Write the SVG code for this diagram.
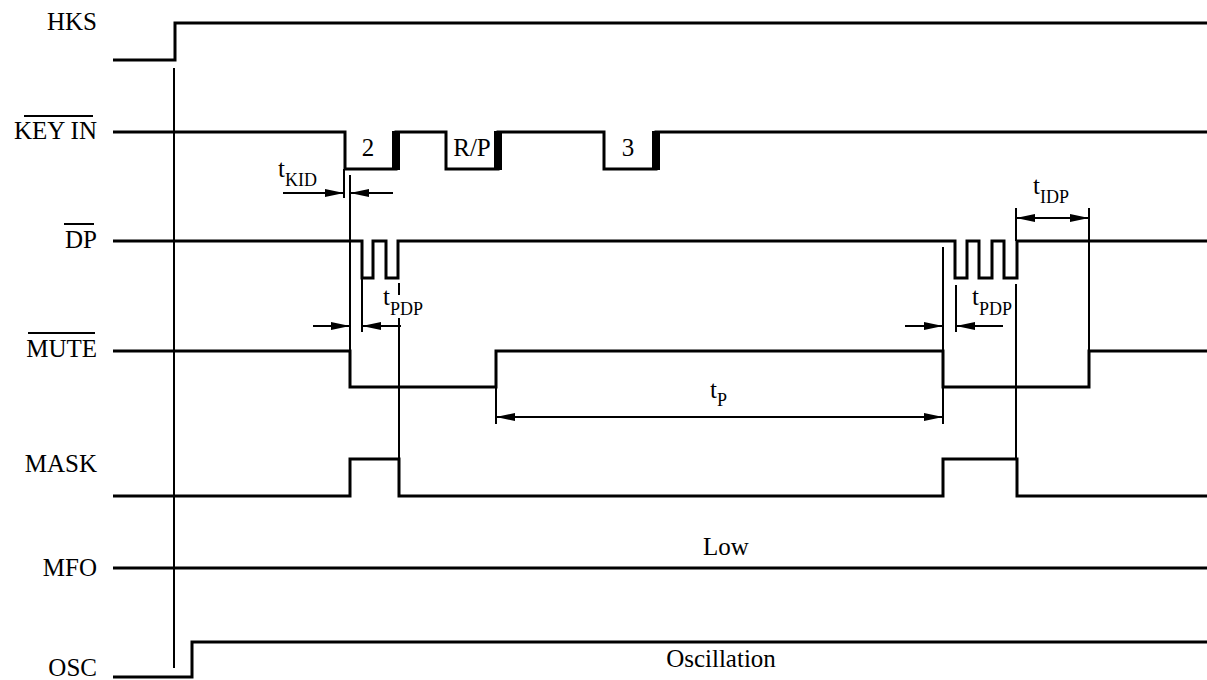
<svg xmlns="http://www.w3.org/2000/svg" width="1207" height="680" viewBox="0 0 1207 680">
<defs>
<style>
.sig{fill:none;stroke:#000;stroke-width:3;stroke-linejoin:miter}
.g{fill:none;stroke:#000;stroke-width:2}
.ar{fill:none;stroke:#000;stroke-width:2;marker-end:url(#ah)}
.ar2{fill:none;stroke:#000;stroke-width:2;marker-end:url(#ah);marker-start:url(#ah)}
text{font-family:"Liberation Serif","Times New Roman",serif;font-size:25px;fill:#000}
.lbl{text-anchor:end}
.mid{text-anchor:middle}
.sub{font-size:18px}
</style>
<marker id="ah" viewBox="0 0 19 8" markerWidth="19" markerHeight="8" refX="19" refY="4" orient="auto-start-reverse" markerUnits="userSpaceOnUse">
<path d="M0,0 L19,4 L0,8 z" fill="#000"/>
</marker>
</defs>
<rect width="1207" height="680" fill="#fff"/>

<g id="labels">
<text class="lbl" x="97" y="30">HKS</text>
<text class="lbl" x="97" y="139">KEY IN</text>
<line class="g" x1="24" y1="116" x2="93" y2="116"/>
<text class="lbl" x="97" y="248">DP</text>
<line class="g" x1="64" y1="224" x2="94" y2="224"/>
<text class="lbl" x="97" y="357">MUTE</text>
<line class="g" x1="28" y1="333" x2="95" y2="333"/>
<text class="lbl" x="97" y="472">MASK</text>
<text class="lbl" x="97" y="576">MFO</text>
<text class="lbl" x="97" y="676">OSC</text>
</g>

<g id="HKS"><path class="sig" d="M113,60 H175 V23 H1207"/></g>
<g id="KEYIN">
<path class="sig" d="M113,132 H345 V169 H396 V132 H446 V169 H498 V132 H604 V169 H656 V132 H1207"/>
<rect x="392" y="131" width="8" height="39" fill="#000"/>
<rect x="494" y="131" width="8" height="39" fill="#000"/>
<rect x="652" y="131" width="8" height="39" fill="#000"/>
<text class="mid" x="368" y="156">2</text>
<text class="mid" x="472" y="156">R/P</text>
<text class="mid" x="628" y="156">3</text>
</g>
<g id="DP"><path class="sig" d="M113,241 H362 V278 H373 V241 H386 V278 H398 V241 H955 V278 H967 V241 H979 V278 H992 V241 H1004 V278 H1017 V241 H1207"/></g>
<g id="MUTE"><path class="sig" d="M113,351 H350 V387 H496 V351 H943 V387 H1089 V351 H1207"/></g>
<g id="MASK"><path class="sig" d="M113,496 H350 V459 H399 V496 H943 V459 H1017 V496 H1207"/></g>
<g id="MFO"><path class="sig" d="M113,568 H1207"/><text class="mid" x="726" y="555">Low</text></g>
<g id="OSC"><path class="sig" d="M113,677 H192 V642 H1207"/><text class="mid" x="721" y="667">Oscillation</text></g>

<g id="connectors">
<line class="g" x1="174" y1="68" x2="174" y2="668"/>
<line class="g" x1="344" y1="169" x2="344" y2="198"/>
<line class="g" x1="350" y1="175" x2="350" y2="351"/>
<line class="g" x1="362" y1="278" x2="362" y2="332"/>
<line class="g" x1="399" y1="283" x2="399" y2="295"/>
<line class="g" x1="399" y1="318" x2="399" y2="459"/>
<line class="g" x1="943" y1="247" x2="943" y2="351"/>
<line class="g" x1="956" y1="285" x2="956" y2="332"/>
<line class="g" x1="1016" y1="208" x2="1016" y2="241"/>
<line class="g" x1="1016" y1="284" x2="1016" y2="459"/>
<line class="g" x1="1089" y1="208" x2="1089" y2="351"/>
<line class="g" x1="496" y1="387" x2="496" y2="424"/>
<line class="g" x1="943" y1="387" x2="943" y2="424"/>
<line class="ar" x1="283" y1="193" x2="344" y2="193"/>
<line class="ar" x1="393" y1="193" x2="350" y2="193"/>
<line class="ar" x1="313" y1="326" x2="350" y2="326"/>
<line class="ar" x1="401" y1="326" x2="362" y2="326"/>
<line class="ar" x1="905" y1="326" x2="943" y2="326"/>
<line class="ar" x1="1003" y1="326" x2="956" y2="326"/>
<line class="ar2" x1="1016" y1="218" x2="1089" y2="218"/>
<line class="ar2" x1="496" y1="417" x2="943" y2="417"/>
</g>

<g id="timing-labels">
<text x="278" y="177">t<tspan class="sub" y="186">KID</tspan></text>
<text x="383" y="305">t<tspan class="sub" y="315">PDP</tspan></text>
<text x="972" y="305">t<tspan class="sub" y="315">PDP</tspan></text>
<text x="1033" y="194">t<tspan class="sub" y="203">IDP</tspan></text>
<text x="710" y="398">t<tspan class="sub" y="406">P</tspan></text>
</g>
</svg>
